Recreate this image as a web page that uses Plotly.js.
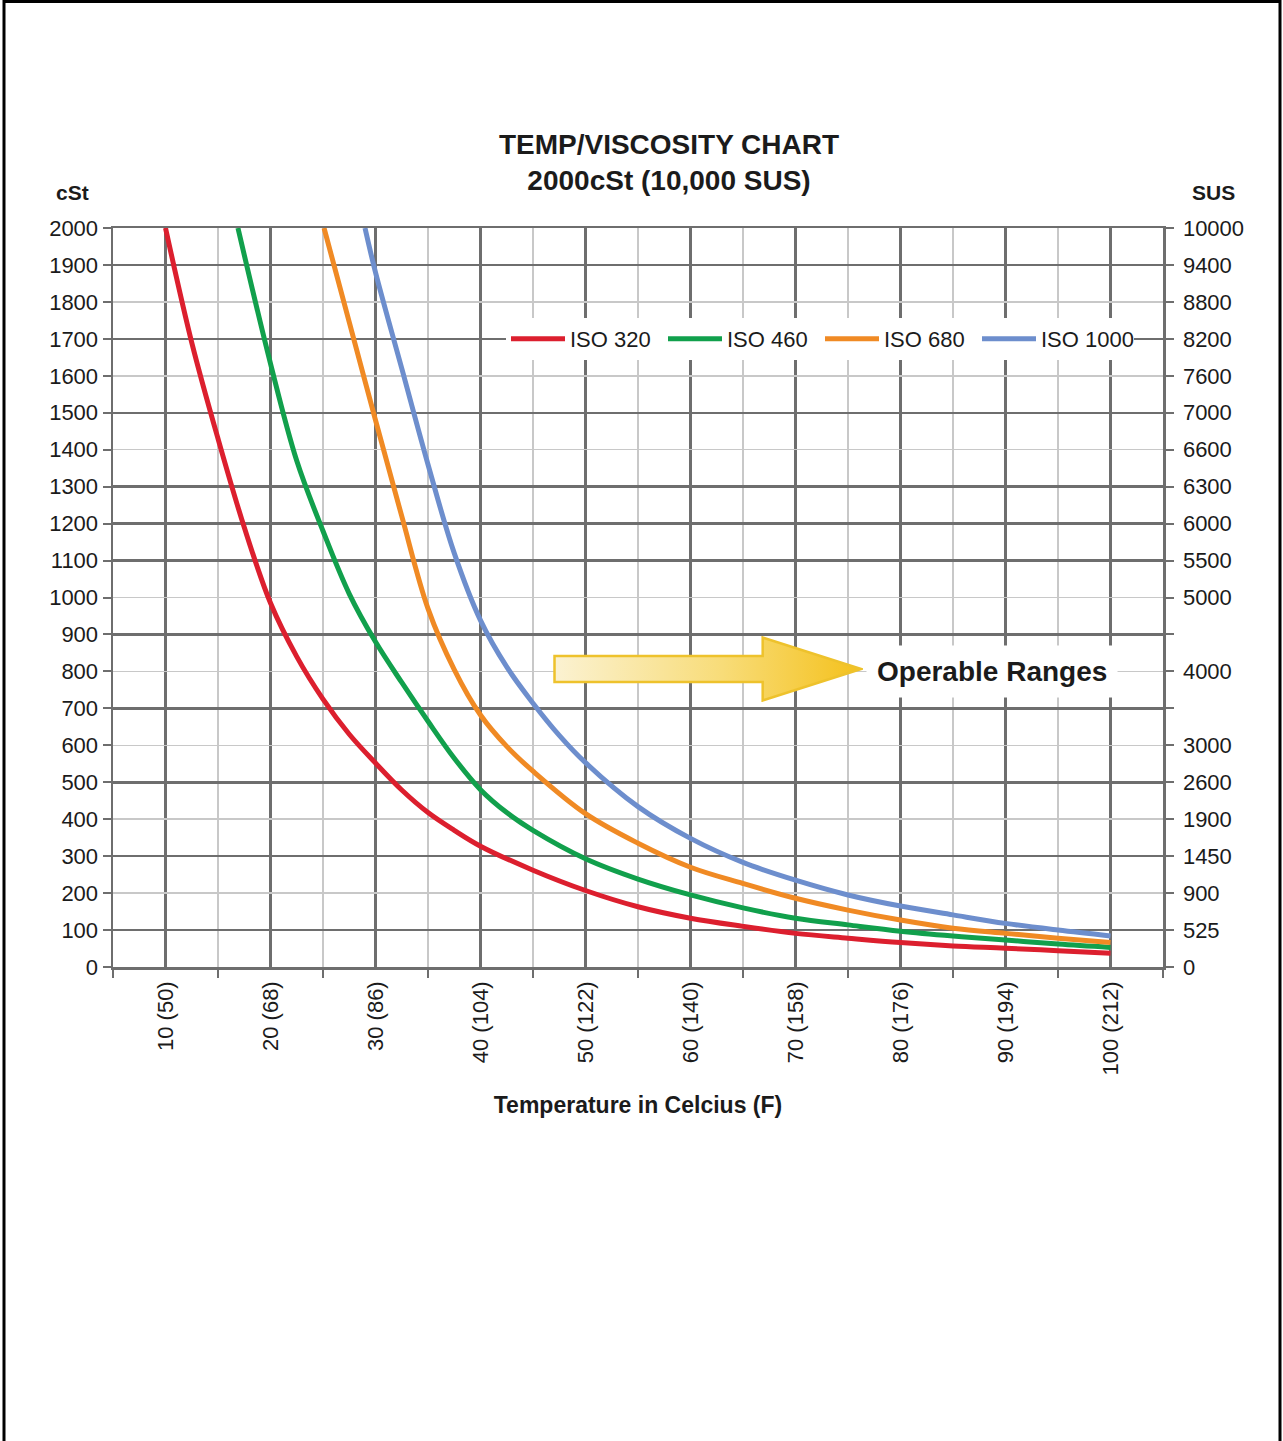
<!DOCTYPE html>
<html>
<head>
<meta charset="utf-8">
<script src="https://cdn.plot.ly/plotly-3.0.1.min.js"></script>
<style>
  html, body { margin: 0; padding: 0; background: #ffffff; }
  #chart { width: 1283px; height: 1441px; }
</style>
</head>
<body>
<div id="chart"></div>
<script>
// ---------- data ----------
const tempTicks  = [10, 20, 30, 40, 50, 60, 70, 80, 90, 100];
const tempLabels = ['10 (50)', '20 (68)', '30 (86)', '40 (104)', '50 (122)', '60 (140)', '70 (158)', '80 (176)', '90 (194)', '100 (212)'];
const cstTicks   = [0, 100, 200, 300, 400, 500, 600, 700, 800, 900, 1000, 1100, 1200, 1300, 1400, 1500, 1600, 1700, 1800, 1900, 2000];
const susLabels  = ['0', '525', '900', '1450', '1900', '2600', '3000', '', '4000', '', '5000', '5500', '6000', '6300', '6600', '7000', '7600', '8200', '8800', '9400', '10000'];
const darkRows   = [100, 300, 500, 700, 900, 1100, 1200, 1300, 1500, 1700, 1900];

const seriesNames = ['ISO 320', 'ISO 460', 'ISO 680', 'ISO 1000'];

const iso320Temp = [10, 12.5, 15, 17.5, 20, 22.5, 25, 27.5, 30, 32.5, 35, 37.5, 40, 45, 50, 55, 60, 65, 70, 75, 80, 85, 90, 95, 100];
const iso320Cst  = [2000, 1690, 1430, 1190, 985, 840, 725, 630, 552, 479, 418, 370, 327, 262, 207, 163, 132, 110, 91, 78, 66, 57, 51, 44, 37];

const iso460Temp = [16.9, 20, 22.5, 25, 27.5, 30, 32.5, 35, 37.5, 40, 42.5, 45, 50, 55, 60, 65, 70, 75, 80, 85, 90, 95, 100];
const iso460Cst  = [2000, 1633, 1370, 1180, 1010, 880, 770, 665, 565, 480, 418, 370, 293, 238, 195, 160, 132, 114, 97, 84, 73, 62, 53];

const iso680Temp = [25.1, 27.5, 30, 32.5, 35, 37.5, 40, 42.5, 45, 50, 55, 60, 65, 70, 75, 80, 85, 90, 95, 100];
const iso680Cst  = [2000, 1745, 1480, 1220, 970, 805, 682, 597, 530, 415, 335, 270, 226, 186, 154, 127, 105, 91, 78, 66];

const iso1000Temp = [29, 30, 32.5, 35, 37.5, 40, 42.5, 45, 47.5, 50, 55, 60, 65, 70, 75, 80, 85, 90, 95, 100];
const iso1000Cst  = [2000, 1880, 1620, 1360, 1120, 938, 812, 714, 627, 553, 434, 348, 283, 235, 195, 165, 141, 118, 100, 84];

const seriesColors = ['#dc1f2e', '#11a04c', '#f08a24', '#6d8ecd'];

// ---------- styling ----------
const FONT = 'Liberation Sans, Arial, Helvetica, sans-serif';
const TXT = '#1b1b1b';
const DARK = '#6e6e6e';
const LIGHT = '#c8c8c8';

const temps = [iso320Temp, iso460Temp, iso680Temp, iso1000Temp];
const vals  = [iso320Cst, iso460Cst, iso680Cst, iso1000Cst];

const traces = seriesNames.map((name, i) => ({
  type: 'scatter',
  mode: 'lines',
  name: name,
  x: temps[i],
  y: vals[i],
  line: { color: seriesColors[i], width: 5, shape: 'spline', smoothing: 1 },
  hoverinfo: 'skip'
}));
// empty helper traces so that the SUS axis and the darker grid axis get drawn
traces.push({ type: 'scatter', mode: 'lines', x: [null], y: [null], yaxis: 'y2', showlegend: false, hoverinfo: 'skip' });
traces.push({ type: 'scatter', mode: 'lines', x: [null], y: [null], yaxis: 'y3', showlegend: false, hoverinfo: 'skip' });

const arrowSvg =
  '<svg xmlns="http://www.w3.org/2000/svg" width="309" height="66" viewBox="0 0 309 66" preserveAspectRatio="none">' +
  '<defs><linearGradient id="g" x1="0" x2="1" y1="0" y2="0">' +
  '<stop offset="0" stop-color="#fbf2d2"/><stop offset="0.55" stop-color="#f8dc78"/><stop offset="1" stop-color="#f4c11c"/>' +
  '</linearGradient></defs>' +
  '<path d="M1.5,20 H209 V1.5 L307,33 L209,64.5 V46 H1.5 Z" fill="url(#g)" stroke="#eec22c" stroke-width="2.5" stroke-linejoin="miter"/>' +
  '</svg>';

const layout = {
  width: 1283,
  height: 1441,
  margin: { l: 113, r: 120, t: 228, b: 474 },
  paper_bgcolor: '#ffffff',
  plot_bgcolor: '#ffffff',
  font: { family: FONT, color: TXT, size: 22 },
  showlegend: true,
  hovermode: false,
  title: {
    text: 'TEMP/VISCOSITY CHART<br>2000cSt (10,000 SUS)',
    font: { family: FONT, size: 28, weight: 'bold', color: TXT },
    x: 669 / 1283, xref: 'container', xanchor: 'center',
    y: 1 - 154 / 1441, yref: 'container', yanchor: 'top'
  },
  xaxis: {
    range: [5, 105],
    tickmode: 'array',
    tickvals: tempTicks,
    ticktext: tempLabels,
    tickangle: -90,
    ticks: '',
    ticklabelstandoff: 3,
    tickfont: { family: FONT, size: 22, color: TXT },
    showgrid: true, gridcolor: DARK, gridwidth: 2.5,
    minor: { tick0: 5, dtick: 10, ticks: 'outside', ticklen: 8, tickwidth: 2, tickcolor: DARK,
             showgrid: true, gridcolor: LIGHT, gridwidth: 1.5 },
    showline: true, linecolor: DARK, linewidth: 2.5, mirror: true,
    zeroline: false, fixedrange: true,
    title: { text: 'Temperature in Celcius (F)', font: { family: FONT, size: 23, weight: 'bold', color: TXT }, standoff: 23 }
  },
  yaxis: {
    range: [0, 2000],
    tickmode: 'array',
    tickvals: cstTicks,
    ticks: 'outside', ticklen: 8, tickwidth: 2, tickcolor: DARK,
    ticklabelstandoff: 0,
    tickfont: { family: FONT, size: 22, color: TXT },
    showgrid: true, gridcolor: LIGHT, gridwidth: 1.5,
    showline: true, linecolor: DARK, linewidth: 2.5, mirror: true,
    zeroline: false, fixedrange: true
  },
  yaxis2: {
    overlaying: 'y', side: 'right', anchor: 'x',
    range: [0, 2000],
    tickmode: 'array',
    tickvals: cstTicks,
    ticktext: susLabels,
    ticks: 'outside', ticklen: 8, tickwidth: 2, tickcolor: DARK,
    ticklabelstandoff: 5,
    tickfont: { family: FONT, size: 22, color: TXT },
    showgrid: false, showline: true, linecolor: DARK, linewidth: 2.5,
    zeroline: false, fixedrange: true
  },
  yaxis3: {
    overlaying: 'y', side: 'left', anchor: 'x',
    range: [0, 2000],
    tickmode: 'array',
    tickvals: darkRows,
    showticklabels: false, ticks: '',
    showgrid: true, gridcolor: DARK, gridwidth: 2.5,
    showline: false, zeroline: false, fixedrange: true
  },
  legend: {
    orientation: 'h',
    x: (506 - 113) / 1050, xanchor: 'left',
    y: (967 - 339) / 739, yanchor: 'middle',
    bgcolor: '#ffffff',
    borderwidth: 0,
    font: { family: FONT, size: 22, color: TXT },
    itemwidth: 54,
    entrywidth: 88
  },
  annotations: [
    { text: 'cSt', xref: 'paper', yref: 'paper', x: (72 - 113) / 1050, y: (967 - 192) / 739,
      xanchor: 'center', yanchor: 'middle', showarrow: false,
      font: { family: FONT, size: 21, weight: 'bold', color: TXT } },
    { text: 'SUS', xref: 'paper', yref: 'paper', x: (1213 - 113) / 1050, y: (967 - 192) / 739,
      xanchor: 'center', yanchor: 'middle', showarrow: false,
      font: { family: FONT, size: 21, weight: 'bold', color: TXT } },
    { text: 'Operable Ranges', xref: 'paper', yref: 'paper', x: (992 - 113) / 1050, y: (967 - 671) / 739,
      xanchor: 'center', yanchor: 'middle', showarrow: false,
      bgcolor: '#ffffff', borderpad: 10,
      font: { family: FONT, size: 28, weight: 'bold', color: TXT } }
  ],
  images: [
    { source: 'data:image/svg+xml;charset=utf-8,' + encodeURIComponent(arrowSvg),
      xref: 'paper', yref: 'paper',
      x: (553 - 113) / 1050, y: (967 - 636) / 739,
      sizex: 310 / 1050, sizey: 66 / 739,
      xanchor: 'left', yanchor: 'top', sizing: 'stretch', layer: 'above' }
  ],
  shapes: [
    { type: 'rect', xref: 'paper', yref: 'paper',
      x0: (4 - 113) / 1050, x1: (1280 - 113) / 1050,
      y0: (967 - 1460) / 739, y1: (967 - 1.5) / 739,
      line: { color: '#000000', width: 3 }, fillcolor: 'rgba(0,0,0,0)', layer: 'above' }
  ]
};

Plotly.newPlot('chart', traces, layout, { displayModeBar: false, staticPlot: true });
</script>
</body>
</html>
